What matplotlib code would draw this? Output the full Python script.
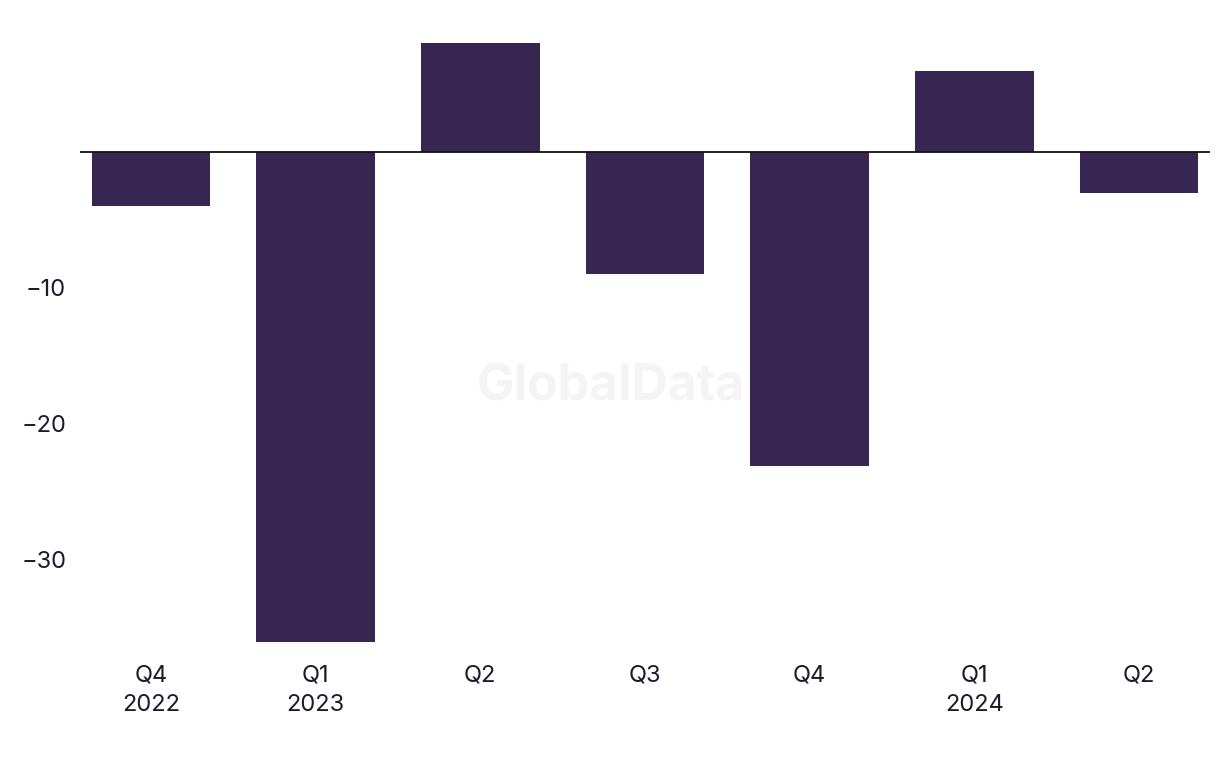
import matplotlib.pyplot as plt
import numpy as np

quarters = ["Q4\n2022", "Q1\n2023", "Q2", "Q3", "Q4", "Q1\n2024", "Q2"]
values = [-4.0, -36.1, 8.0, -9.0, -23.1, 6.0, -3.0]
yticks = [-10, -20, -30]

bar_color = "#362651"
text_color = "#1b1a2e"

plt.rcParams['font.family'] = ['Inter', 'DejaVu Sans']

fig = plt.figure(figsize=(12.2, 7.68), dpi=100)
ax = fig.add_axes([80 / 1220, 1 - 642 / 768, 1130 / 1220, 600 / 768])

x = np.arange(len(quarters))
ax.bar(x, values, width=0.72, color=bar_color, zorder=2)
ax.axhline(0, color="#111111", linewidth=1.3, zorder=3)

# watermark sits behind the bars
ax.text(0.47, 0.425, "GlobalData", transform=ax.transAxes, ha="center", va="center",
        fontsize=36, fontweight="bold", color="#f4f4f4", zorder=1)

ax.set_xlim(-0.43, 6.43)
ax.set_ylim(-36.1, 8.1)
ax.set_xticks(x)
ax.set_xticklabels(quarters, fontsize=17, color=text_color, linespacing=1.45)
ax.set_yticks(yticks)
ax.set_yticklabels(["\u221210", "\u221220", "\u221230"], fontsize=17, color=text_color)
ax.tick_params(axis="both", length=0)
ax.tick_params(axis="x", pad=16)
ax.tick_params(axis="y", pad=10)
for s in ax.spines.values():
    s.set_visible(False)

fig.savefig("out.png", dpi=100)
